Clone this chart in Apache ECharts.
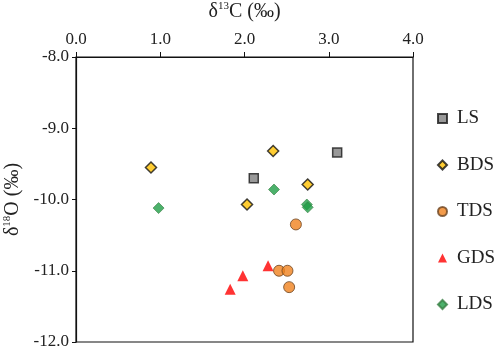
<!DOCTYPE html>
<html>
<head>
<meta charset="utf-8">
<script src="https://cdn.jsdelivr.net/npm/echarts@6/dist/echarts.min.js"></script>
<style>
  html, body { margin: 0; padding: 0; background: #fff; }
  #chart { width: 498px; height: 350px; }
</style>
</head>
<body>
<div id="chart"></div>
<script type="text/javascript">
    // d13C (x), d18O (y) pairs per group
    var ls  = [[2.11, -9.70], [3.10, -9.34]];
    var bds = [[0.89, -9.55], [2.34, -9.32], [2.75, -9.79], [2.03, -10.07]];
    var tds = [[2.61, -10.35], [2.41, -11.00], [2.51, -11.00], [2.53, -11.23]];
    var gds = [[1.83, -11.26], [1.98, -11.07], [2.28, -10.93]];
    var lds = [[0.98, -10.12], [2.35, -9.86], [2.74, -10.07], [2.75, -10.11]];
    var groups = ['LS', 'BDS', 'TDS', 'GDS', 'LDS'];

    var font = '"Liberation Serif", "Times New Roman", serif';
    var chart = echarts.init(document.getElementById('chart'));

    function fmt(v) { return v.toFixed(1); }

    var nameRich = {
        a: { fontFamily: font, fontSize: 20, color: '#222', lineHeight: 22 },
        s: { fontFamily: font, fontSize: 11, color: '#222', verticalAlign: 'top', lineHeight: 22, padding: [0, 0, 9, 0] }
    };

    var option = {
        animation: false,
        textStyle: { fontFamily: font, color: '#222' },
        grid: {
            left: 76, top: 57, width: 337, height: 285,
            outerBoundsMode: 'none',
            containLabel: false,
            show: true, borderColor: '#111', borderWidth: 1.2, backgroundColor: 'transparent'
        },
        legend: {
            orient: 'vertical',
            left: 432,
            top: 104,
            itemWidth: 9,
            itemHeight: 9,
            itemGap: 27.5,
            data: groups,
            textStyle: { fontFamily: font, fontSize: 19, color: '#222', padding: [0, 0, 0, 5] }
        },
        xAxis: {
            type: 'value',
            position: 'top',
            min: 0, max: 4, interval: 1,
            name: '{a|δ}{s|13}{a|C (‰)}',
            nameLocation: 'middle',
            nameGap: 34,
            nameTextStyle: { rich: nameRich },
            axisLine: { show: true, lineStyle: { color: '#111', width: 1.2 } },
            axisTick: { show: true, inside: false, length: 5, lineStyle: { color: '#111' } },
            axisLabel: { formatter: fmt, fontSize: 17, color: '#222', margin: 9, fontFamily: font },
            splitLine: { show: false }
        },
        yAxis: {
            type: 'value',
            min: -12, max: -8, interval: 1,
            name: '{a|δ}{s|18}{a|O (‰)}',
            nameLocation: 'middle',
            nameRotate: 90,
            nameGap: 51,
            nameTextStyle: { rich: nameRich },
            axisLine: { show: true, lineStyle: { color: '#111', width: 1.2 } },
            axisTick: { show: true, inside: false, length: 4, lineStyle: { color: '#111' } },
            axisLabel: { formatter: fmt, fontSize: 17, color: '#222', margin: 7, fontFamily: font },
            splitLine: { show: false }
        },
        series: [
            {
                name: 'LS', type: 'scatter', data: ls,
                symbol: 'rect', symbolSize: 9,
                itemStyle: { color: '#7f7f7f', borderColor: '#1a1a1a', borderWidth: 1.5 }
            },
            {
                name: 'BDS', type: 'scatter', data: bds,
                symbol: 'diamond', symbolSize: 11,
                itemStyle: { color: '#ffc000', borderColor: '#111', borderWidth: 1.5 }
            },
            {
                name: 'TDS', type: 'scatter', data: tds,
                symbol: 'circle', symbolSize: 11,
                itemStyle: { color: '#f0821e', borderColor: '#6b4420', borderWidth: 1 }
            },
            {
                name: 'GDS', type: 'scatter', data: gds,
                symbol: 'triangle', symbolSize: 11,
                itemStyle: { color: '#ff0000' }
            },
            {
                name: 'LDS', type: 'scatter', data: lds,
                symbol: 'diamond', symbolSize: 11,
                itemStyle: { color: '#1f9e46', borderColor: '#3a7f45', borderWidth: 0.8 }
            }
        ]
    };
    chart.setOption(option);
</script>
</body>
</html>
